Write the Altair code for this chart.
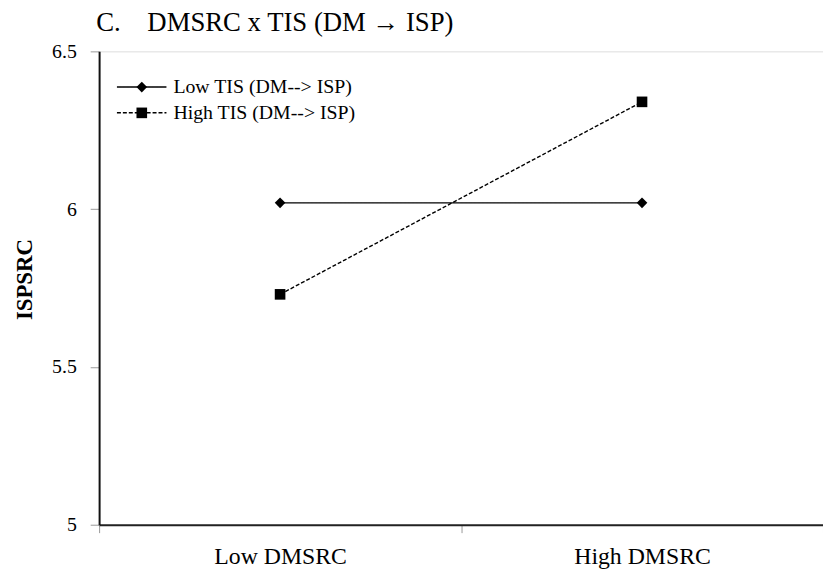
import altair as alt
import pandas as pd

title_text = ["C.\u00a0\u00a0\u00a0\u00a0DMSRC x TIS (DM \u2192 ISP)"]
x_categories = ["Low DMSRC", "High DMSRC"]
series_names = ["Low TIS (DM--> ISP)", "High TIS (DM--> ISP)"]
low_tis_values = [6.02, 6.02]
high_tis_values = [5.73, 6.34]
y_ticks = [5, 5.5, 6, 6.5]

rows = []
for cat, v in zip(x_categories, low_tis_values):
    rows.append({"dmsrc": cat, "series": series_names[0], "value": v})
for cat, v in zip(x_categories, high_tis_values):
    rows.append({"dmsrc": cat, "series": series_names[1], "value": v})
df = pd.DataFrame(rows)

FONT = "Liberation Serif"

x_enc = alt.X(
    "dmsrc:N",
    sort=x_categories,
    scale=alt.Scale(type="band", paddingInner=0, paddingOuter=0),
    axis=alt.Axis(
        title=None, labelAngle=0, tickBand="extent", labelFont=FONT,
        labelFontSize=24, labelColor="#000", labelPadding=12,
        domainColor="#222", domainWidth=2, tickColor="#999", tickSize=8,
        grid=False,
    ),
)
y_enc = alt.Y(
    "value:Q",
    scale=alt.Scale(domain=[5, 6.5], nice=False, zero=False),
    axis=alt.Axis(
        values=y_ticks, format="~g", title="ISPSRC", titleFont=FONT,
        titleFontSize=23, titleFontWeight="bold", titleColor="#000",
        titleX=-68, titleY=230, titleBaseline="alphabetic",
        labelFont=FONT, labelFontSize=20, labelColor="#000", labelPadding=14,
        domainColor="#111", domainWidth=2, tickColor="#999", tickSize=9,
        grid=False,
    ),
)

dashes = [[1, 0], [4, 2]]
shapes = ["diamond", "square"]
row_y = [35, 61]  # legend row centres, below the plot top


def series_layers(idx):
    sub = df[df["series"] == series_names[idx]]
    line = alt.Chart(sub).mark_line(color="#000", strokeWidth=1.4).encode(
        x=x_enc,
        y=y_enc,
        strokeDash=alt.StrokeDash(
            "series:N",
            scale=alt.Scale(domain=[series_names[idx]], range=[dashes[idx]]),
            legend=alt.Legend(
                title=None, orient="none", legendX=17, legendY=row_y[idx] - 25,
                symbolType="stroke", symbolSize=2500, symbolStrokeWidth=1.4,
                symbolStrokeColor="#000", labelFont=FONT, labelFontSize=20,
                labelColor="#000", labelOffset=6, labelLimit=400, padding=0,
            ),
        ),
    )
    pts = alt.Chart(sub).mark_point(
        filled=True, color="#000", opacity=1, size=115
    ).encode(
        x=x_enc,
        y=y_enc,
        shape=alt.Shape(
            "series:N",
            scale=alt.Scale(domain=[series_names[idx]], range=[shapes[idx]]),
            legend=alt.Legend(
                title=None, orient="none", legendX=36.6,
                legendY=row_y[idx] - 5.4, symbolSize=115, symbolOpacity=1,
                symbolFillColor="#000", labelExpr="''", labelFontSize=1,
                labelOffset=0, padding=0,
            ),
        ),
    )
    return [line, pts]


title_df = pd.DataFrame({"t": title_text})
title_mark = alt.Chart(title_df).mark_text(
    align="left", baseline="alphabetic", font=FONT, fontSize=27, color="#000",
).encode(text="t:N", x=alt.value(-3), y=alt.value(-21))

chart = (
    alt.layer(*series_layers(0), *series_layers(1), title_mark)
    .resolve_scale(shape="independent", strokeDash="independent")
    .properties(
        width=731,
        height=478,
        autosize=alt.AutoSizeParams(type="none"),
        padding={"left": 92, "top": 41, "right": 0, "bottom": 50},
    )
    .configure_view(stroke="#999", strokeWidth=1.5)
    .configure(background="white")
)

chart.save("out.html", embed_options={"renderer": "svg", "actions": False})
